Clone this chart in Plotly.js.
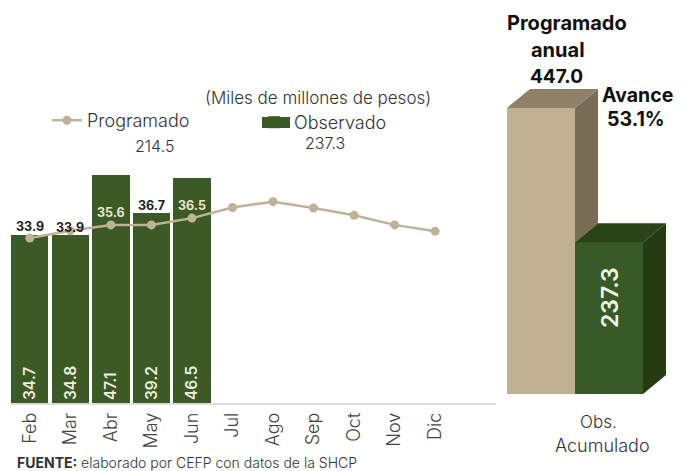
<!DOCTYPE html>
<html><head><meta charset="utf-8">
<script src="https://cdn.plot.ly/plotly-3.0.1.min.js"></script>
<style>html,body{margin:0;padding:0;background:#fff}</style></head>
<body><div id="chart" style="width:688px;height:471px"></div>
<script>
const months = ["Feb","Mar","Abr","May","Jun","Jul","Ago","Sep","Oct","Nov","Dic"];
const observado = [34.7,34.8,47.1,39.2,46.5];
const programadoLinea = [34.1,35.6,36.8,36.8,38.2,40.4,41.6,40.3,38.8,36.8,35.5];
const programadoEtiquetas = ["33.9","33.9","35.6","36.7","36.5"];
const programadoAnual = 447.0;
const observadoAcumulado = 237.3;

const W=688,H=471,FONT='Inter, Lato, sans-serif';
const GREEN='#3b5a26', BEIGE='#c0b092';
const px=(a)=>a/W, py=(b)=>1-b/H;
// 3D depth, in units of the right-hand axes
const UX=68, UY=0.64, DX=23/UX, DY=19/UY;
const labelShift=[6,-2,7,14,8];
const labelColor=['#1c1c1c','#1c1c1c','#e8e6d0','#1c1c1c','#e8e6d0'];

const poly=(xs,ys,color)=>({type:'scatter',mode:'lines',x:[...xs,xs[0]],y:[...ys,ys[0]],fill:'toself',
  fillcolor:color,line:{width:0,color},xaxis:'x2',yaxis:'y2',showlegend:false,hoverinfo:'skip'});
const P=programadoAnual,O=observadoAcumulado;

const traces=[
 {type:'bar',name:'Observado',legend:'legend2',x:months.slice(0,observado.length),y:observado,width:0.92,
  marker:{color:GREEN},text:observado.map(v=>v.toFixed(1)),textposition:'inside',insidetextanchor:'start',
  textangle:-90,cliponaxis:false,
  textfont:{family:FONT,size:15.5,color:'#efeedd',weight:600}},
 {type:'scatter',mode:'lines+markers',name:'Programado',x:months,y:programadoLinea,
  line:{color:'#bfb298',width:2.5},marker:{color:'#bfb298',size:9}},
 {type:'bar',x:[0.5,1.5],y:[P,O],width:1,marker:{color:[BEIGE,'#375a26']},xaxis:'x2',yaxis:'y2',showlegend:false},
 poly([1,1+DX,1+DX,1],[P,P+DY,O+DY,O],'#7a6d55'),
 poly([0,1,1+DX,DX],[P,P,P+DY,P+DY],'#8f8168'),
 poly([1,2,2+DX,1+DX],[O,O,O+DY,O+DY],'#2a4417'),
 poly([2,2+DX,2+DX,2],[0,DY,O+DY,O],'#243b13')
];

const ann=(text,x,y,size,opt={})=>Object.assign({text,x:px(x),y:py(y),xref:'paper',yref:'paper',showarrow:false,
  xanchor:'center',yanchor:'middle',font:{family:FONT,size,color:'#333',weight:300}},opt);
const blk=(size)=>({family:FONT,size,color:'#111',weight:700});
const annotations=[
 ann('(Miles de millones de pesos)',318,98,17),
 ann('214.5',154,146,16),
 ann('237.3',325,143,16),
 ann('<b>FUENTE:</b> elaborado por CEFP con datos de la SHCP',15,462,14,{xanchor:'left'}),
 ann('Programado',567,23,20,{font:blk(20)}),
 ann('anual',558,50,20,{font:blk(20)}),
 ann('447.0',556,77,19,{font:blk(19)}),
 ann('Avance',637,95,19.5,{font:blk(19.5)}),
 ann('53.1%',636,119,19.5,{font:blk(19.5)}),
 ann('Obs.',598,422,17),
 ann('Acumulado',602,445,18),
 ann(O.toFixed(1),610,298,23,{textangle:-90,font:{family:FONT,size:23,color:'#f2f2e6',weight:600}}),
 ...programadoEtiquetas.map((t,i)=>({text:t,x:months[i],y:programadoLinea[i],xref:'x',yref:'y',showarrow:false,
   yshift:labelShift[i]+5,font:{family:FONT,size:12.5,color:labelColor[i],weight:700}}))
];

const legendBase={orientation:'h',xanchor:'left',yanchor:'top',font:{family:FONT,size:18,color:'#333',weight:300},bgcolor:'rgba(0,0,0,0)'};
const layout={width:W,height:H,margin:{l:0,r:0,t:0,b:0},paper_bgcolor:'#fff',plot_bgcolor:'rgba(0,0,0,0)',
 showlegend:true,
 legend:Object.assign({x:px(47),y:py(102)},legendBase),
 legend2:Object.assign({x:px(254),y:py(104)},legendBase),
 bargap:0,
 xaxis:{domain:[px(9.5),px(496)],range:[-0.5,11.5],type:'category',categoryorder:'array',categoryarray:months,
   tickmode:'array',tickvals:months,ticktext:months,tickangle:-90,ticks:'',showgrid:false,zeroline:false,
   showline:true,linecolor:'#dcdcdc',linewidth:1.5,fixedrange:true,anchor:'y',ticklabelstandoff:1,
   tickfont:{family:FONT,size:18,color:'#444',weight:300}},
 yaxis:{domain:[py(403),1],range:[0,403/4.84],visible:false,fixedrange:true,anchor:'x'},
 xaxis2:{domain:[px(507),px(688)],range:[0,181/UX],visible:false,fixedrange:true,anchor:'y2'},
 yaxis2:{domain:[py(394),1],range:[0,394/UY],visible:false,fixedrange:true,anchor:'x2'},
 shapes:[{type:'rect',xref:'paper',yref:'paper',x0:px(262),x1:px(290),y0:py(117),y1:py(128),fillcolor:GREEN,line:{width:0},layer:'above'}],
 annotations
};
Plotly.newPlot('chart',traces,layout,{displayModeBar:false,staticPlot:true});
</script></body></html>
